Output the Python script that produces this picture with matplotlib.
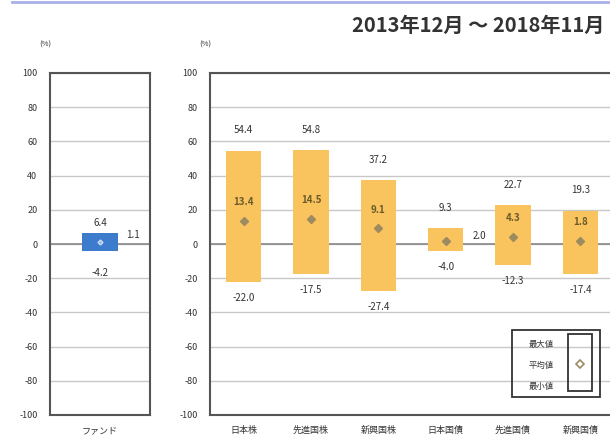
import matplotlib
matplotlib.use("Agg")
import matplotlib.pyplot as plt
from matplotlib.patches import Rectangle
from matplotlib.lines import Line2D
import numpy as np

plt.rcParams['font.family'] = ['Noto Sans CJK JP', 'DejaVu Sans']

# fund
fund_label = 'ファンド'
fund_max = 6.4
fund_avg = 1.1
fund_min = -4.2

# asset classes
categories = ['日本株', '先進国株', '新興国株', '日本国債', '先進国債', '新興国債']
max_vals = [54.4, 54.8, 37.2, 9.3, 22.7, 19.3]
avg_vals = [13.4, 14.5, 9.1, 2.0, 4.3, 1.8]
min_vals = [-22.0, -17.5, -27.4, -4.0, -12.3, -17.4]

title = '2013年12月 ～ 2018年11月'
yticks = list(range(-100, 101, 20))

orange = '#F9C35E'
blue = '#3D7BCC'
marker_col = '#9C8A60'
txt = '#333333'
W, H = 610, 441

fig = plt.figure(figsize=(W / 100, H / 100), dpi=100)
fig.patch.set_facecolor('white')


def style_axes(ax):
    ax.set_ylim(-100, 100)
    ax.set_yticks(yticks)
    ax.set_yticklabels([str(t) for t in yticks], fontsize=6.5, color=txt)
    ax.tick_params(axis='y', length=0, pad=9)
    ax.tick_params(axis='x', length=0, pad=8, labelsize=6.5, labelcolor=txt)
    for t in yticks:
        ax.axhline(t, color='#c8c8c8', lw=1.0, zorder=0)
    ax.axhline(0, color='#888888', lw=1.2, zorder=0)
    for s in ax.spines.values():
        s.set_color('#555555')
        s.set_linewidth(1.5)


# left panel: fund
ax1 = fig.add_axes([50 / W, 26 / H, 100 / W, 342 / H])
style_axes(ax1)
ax1.set_xlim(-0.5, 0.5)
ax1.bar([0], [fund_max - fund_min], bottom=[fund_min], width=0.36,
        color=blue, zorder=2)
ax1.plot([0], [fund_avg], marker='D', ms=2.5, color='#8fb3e6',
         mec='#c9dbf5', zorder=3, ls='none')
ax1.set_xticks([0])
ax1.set_xticklabels([fund_label])
ax1.text(0, fund_max + 6, f'{fund_max:.1f}', ha='center', va='center',
         fontsize=7, color=txt)
ax1.text(0, fund_min - 13, f'{fund_min:.1f}', ha='center', va='center',
         fontsize=7, color=txt)
ax1.text(0.33, fund_avg + 4, f'{fund_avg:.1f}', ha='center', va='center',
         fontsize=7, color=txt)

# right panel: asset classes
ax2 = fig.add_axes([210 / W, 26 / H, 404 / W, 342 / H])
style_axes(ax2)
x = np.arange(len(categories))
ax2.set_xlim(-0.5, len(categories) - 0.5)
ax2.bar(x, np.array(max_vals) - np.array(min_vals), bottom=min_vals,
        width=0.52, color=orange, zorder=2)
ax2.plot(x, avg_vals, marker='D', ms=4, color=marker_col, ls='none', zorder=3)
ax2.set_xticks(x)
ax2.set_xticklabels(categories)
for i in range(len(categories)):
    ax2.text(i, max_vals[i] + 12, f'{max_vals[i]:.1f}', ha='center',
             va='center', fontsize=7, color=txt)
    ax2.text(i, min_vals[i] - 9.5, f'{min_vals[i]:.1f}', ha='center',
             va='center', fontsize=7, color=txt)
    if categories[i] == '日本国債':
        ax2.text(i + 0.5, avg_vals[i] + 2.5, f'{avg_vals[i]:.1f}',
                 ha='center', va='center', fontsize=7, color=txt)
    else:
        ax2.text(i, avg_vals[i] + 11, f'{avg_vals[i]:.1f}', ha='center',
                 va='center', fontsize=7, color='#6b5a2a', fontweight='bold')

# (%) labels
fig.text(45 / W, 1 - 45 / H, '(%)', fontsize=5.5, color=txt, ha='center', va='center')
fig.text(205 / W, 1 - 45 / H, '(%)', fontsize=5.5, color=txt, ha='center', va='center')

# title and top rule
fig.text(604 / W, 1 - 25 / H, title, fontsize=14.5, fontweight='bold',
         color='#333333', ha='right', va='center')
fig.add_artist(Line2D([12 / W, 1], [1 - 1.5 / H, 1 - 1.5 / H],
                      transform=fig.transFigure, color='#aab0e8', lw=2))

# legend box
fig.add_artist(Rectangle((512 / W, 1 - 397 / H), 88 / W, 67 / H,
                         transform=fig.transFigure, fill=False,
                         ec='#333333', lw=1.3))
fig.add_artist(Rectangle((568 / W, 1 - 391 / H), 24 / W, 57 / H,
                         transform=fig.transFigure, fill=False,
                         ec='#333333', lw=1.3))
for lab, yy in zip(['最大値', '平均値', '最小値'], [345, 365, 386]):
    fig.text(541 / W, 1 - yy / H, lab, fontsize=6, color=txt,
             ha='center', va='center')
fig.add_artist(Line2D([580 / W], [1 - 364 / H], transform=fig.transFigure,
                      marker='D', ms=4, mfc='white', mec=marker_col, mew=1.2))

fig.savefig('out.png', dpi=100)
